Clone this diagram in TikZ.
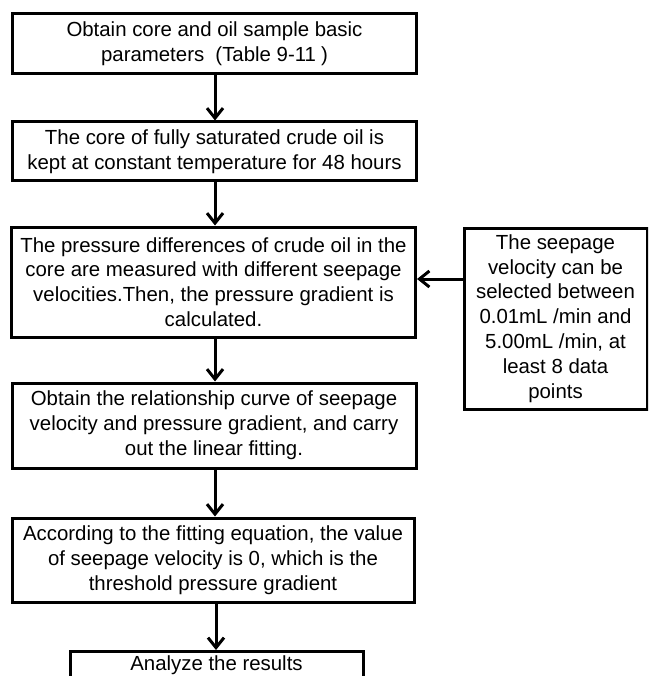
\documentclass[tikz,border=0pt]{standalone}
\usepackage{fontspec}
\setmainfont{Liberation Sans}
\usetikzlibrary{arrows.meta}
\begin{document}
\begin{tikzpicture}[x=1pt,y=-1pt,
  box/.style={draw=black, line width=3pt, fill=white, inner sep=0pt, align=center,
    font=\fontsize{20.4}{24.8}\selectfont},
  flow/.style={line width=3pt, -{Straight Barb[length=10pt,width=16pt,line width=3pt]}}]
\useasboundingbox (0,0) rectangle (648,676);
\clip (0,0) rectangle (648,676);
\node[box, minimum width=404, minimum height=60] (b1) at (214.5,44)
  {Obtain core and oil sample basic\\parameters\hspace{0.55em}(Table 9-11\hspace{0.25em})};
\node[box, minimum width=404, minimum height=59] (b2) at (214.5,151.5)
  {The core of fully saturated crude oil is\\kept at constant temperature for 48 hours};
\node[box, minimum width=404, minimum height=110] (b3) at (213.5,282)
  {The pressure differences of crude oil in the\\core are measured with different seepage\\ velocities.Then, the pressure gradient is\\calculated.};
\node[box, minimum width=183, minimum height=181] (r) at (555.5,318.5)
  {The seepage\\velocity can be\\selected between\\0.01mL /min and\\5.00mL /min, at\\least 8 data\\points};
\node[box, minimum width=404, minimum height=85] (b4) at (214,425.5)
  {Obtain the relationship curve of seepage\\velocity and pressure gradient, and carry\\out the linear fitting.};
\node[box, minimum width=402, minimum height=84] (b5) at (213,560)
  {According to the fitting equation, the value\\of seepage velocity is 0, which is the\\threshold pressure gradient};
\node[box, minimum width=293, minimum height=34, anchor=north] (b6) at (216.5,650)
  {\raisebox{10pt}{Analyze the results}};
\draw[flow] (b1.south -| 215,0) -- (b2.north -| 215,0);
\draw[flow] (b2.south -| 215,0) -- (b3.north -| 215,0);
\draw[flow] (b3.south -| 215,0) -- (b4.north -| 215,0);
\draw[flow] (b4.south -| 215,0) -- (b5.north -| 215,0);
\draw[flow] (b5.south -| 216,0) -- (b6.north -| 216,0);
\draw[flow] (r.west |- 0,279) -- (b3.east |- 0,279);
\end{tikzpicture}
\end{document}
